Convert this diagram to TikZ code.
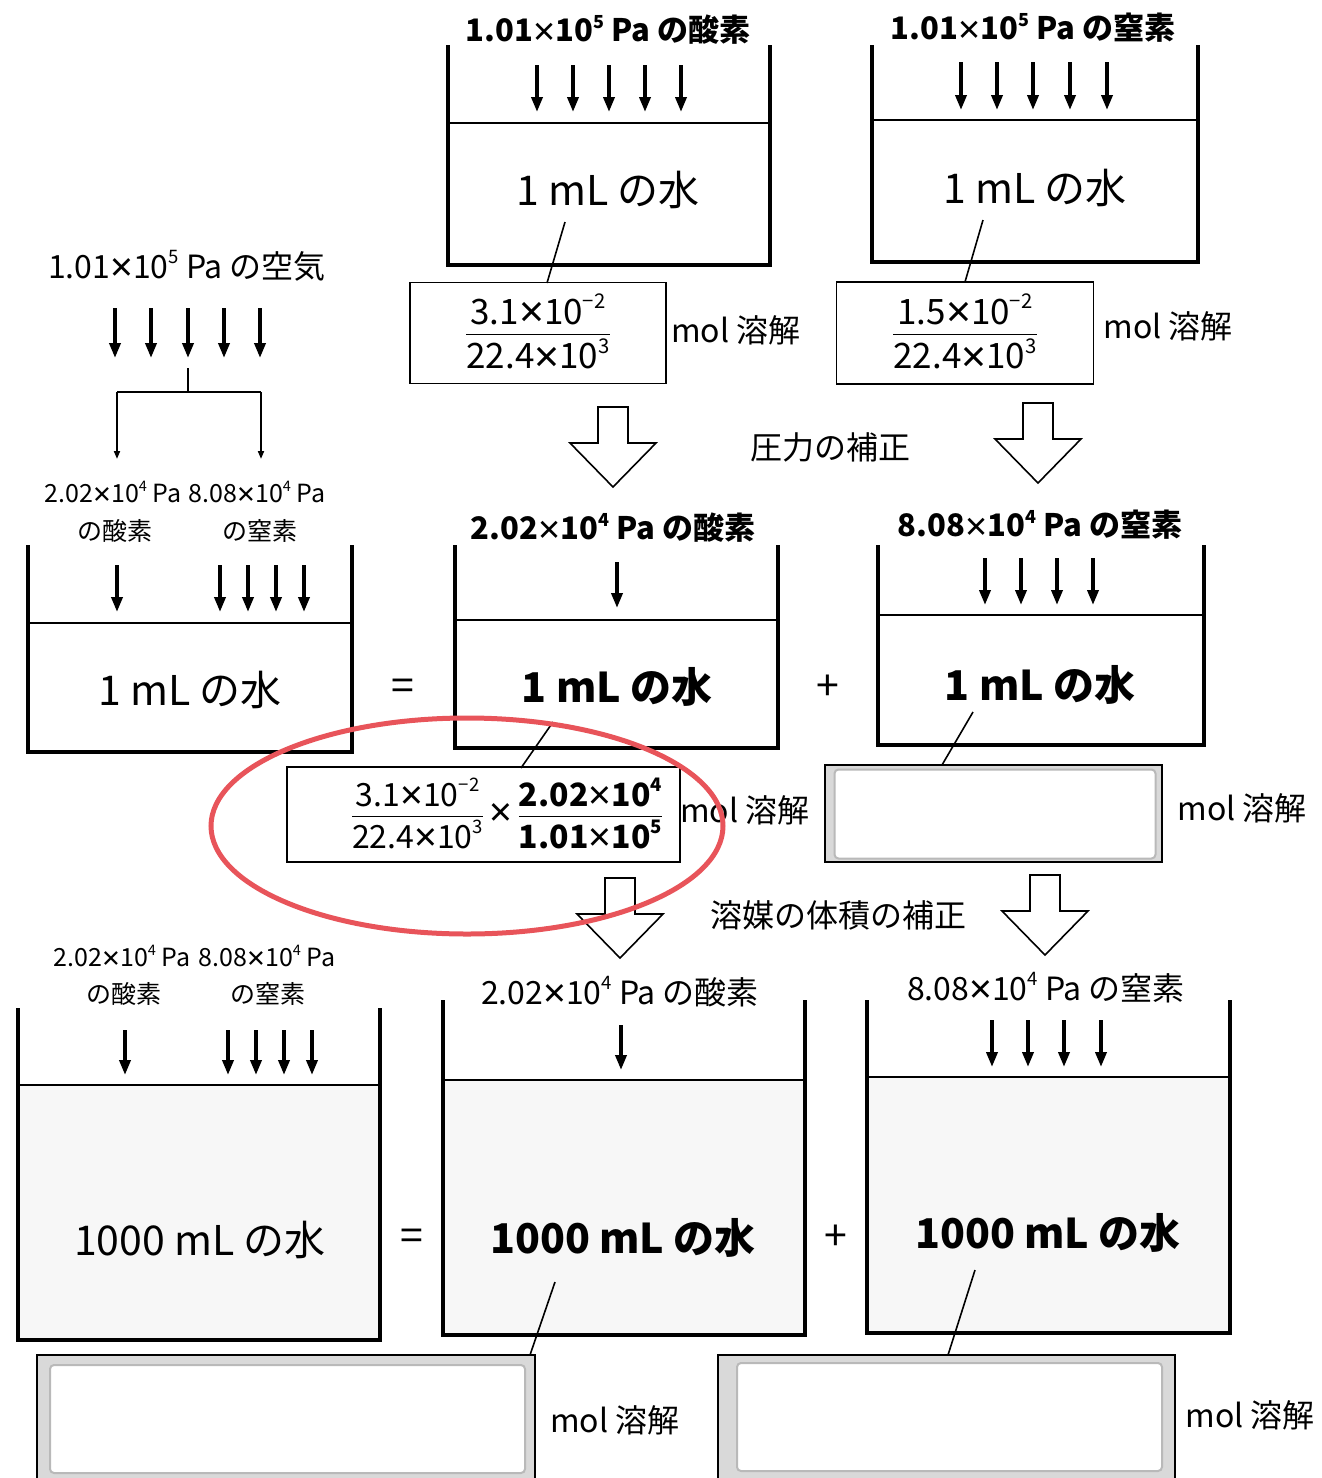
\documentclass[tikz,border=0pt]{standalone}
\usepackage{fontspec}
\usepackage{amsmath}
\setmainfont{Noto Sans CJK JP}
\newfontfamily\latn{Noto Sans}
\usetikzlibrary{arrows.meta}

\definecolor{kreis}{RGB}{232,84,90}
\newcommand{\mal}{\raisebox{-0.1em}{\scalebox{1.25}{\latn ×}}}
\newcommand{\hoch}[1]{\raisebox{0.45em}{\scalebox{0.58}{#1}}}
\newcommand{\zehn}[2]{#1\mal10\hoch{#2}}
\newcommand{\bruch}[2]{$\dfrac{\text{#1}}{\text{#2}}$}

\tikzset{
  wand/.style={line width=3.2pt},
  spiegel/.style={line width=2pt},
  druck/.style={line width=3.6pt,-{Triangle[length=15pt,width=11pt]}},
  zweig/.style={line width=1.8pt,-{Triangle[length=8pt,width=6pt]}},
  gross/.style={font=\fontsize{41}{45}\selectfont},
  grossfett/.style={font=\bfseries\fontsize{41}{45}\selectfont},
  mittel/.style={font=\fontsize{32}{36}\selectfont},
  mittelfett/.style={font=\bfseries\fontsize{31}{35}\selectfont},
  klein/.style={font=\fontsize{25}{28}\selectfont},
  bruchtext/.style={font=\fontsize{35}{39}\selectfont},
  feld/.style={draw,line width=1.6pt,inner sep=0pt},
  hohl/.style={draw,line width=1.6pt,fill=white},
  leer/.style={draw=gray!55,line width=2pt,fill=white,rounded corners=4pt}
}

\begin{document}
\begin{tikzpicture}[x=1pt,y=-1pt]
\useasboundingbox (0,0) rectangle (1322,1478);

% Wasser unten leicht grau
\foreach \xl/\xr/\yw/\yb in {18/380/1085/1340, 443/805/1080/1335, 867/1230/1077/1333}{
  \fill[gray!6] (\xl,\yw) rectangle (\xr,\yb);
}

% Gefaesse: links, rechts, oben, Wasserlinie, Boden
\foreach \xl/\xr/\yt/\yw/\yb in {448/770/45/123/265, 872/1198/45/120/262,
    28/352/545/623/752, 455/778/545/620/748, 878/1204/545/615/745,
    18/380/1008/1085/1340, 443/805/1000/1080/1335, 867/1230/1000/1077/1333}{
  \draw[wand] (\xl,\yt) -- (\xl,\yb) -- (\xr,\yb) -- (\xr,\yt);
  \draw[spiegel] (\xl,\yw) -- (\xr,\yw);
}

% Druckpfeile
\foreach \x in {537,573,609,645,681}{\draw[druck] (\x,65) -- (\x,112);}
\foreach \x in {961,997,1033,1070,1107}{\draw[druck] (\x,62) -- (\x,110);}
\foreach \x in {115,151,188,224,260}{\draw[druck] (\x,308) -- (\x,358);}
\foreach \x in {117,220,248,276,304}{\draw[druck] (\x,565) -- (\x,612);}
\draw[druck] (617,562) -- (617,608);
\foreach \x in {985,1021,1057,1093}{\draw[druck] (\x,558) -- (\x,605);}
\foreach \x in {125,228,256,284,312}{\draw[druck] (\x,1030) -- (\x,1075);}
\draw[druck] (621,1025) -- (621,1070);
\foreach \x in {992,1028,1064,1101}{\draw[druck] (\x,1020) -- (\x,1067);}

% Verzweigung Luft -> O2 / N2
\coordinate (ast) at (188,368);
\coordinate (astmitte) at (188,392);
\coordinate (astO) at (117,392);
\coordinate (astN) at (261,392);
\draw[line width=1.8pt] (ast) -- (astmitte);
\draw[line width=1.8pt] (astO) -- (astN);
\draw[zweig] (astO) -- ++(0,67);
\draw[zweig] (astN) -- ++(0,67);

% Hohlpfeile
\foreach \x/\y in {613/407, 1038/403, 620/878, 1045/875}{
  \draw[hohl] (\x-15,\y) -- (\x+15,\y) -- (\x+15,\y+36) -- (\x+43,\y+36)
    -- (\x,\y+80) -- (\x-43,\y+36) -- (\x-15,\y+36) -- cycle;
}

% obere Reihe
\node[mittelfett] (labO) at (608,30) {\zehn{1.01}{5} Pa の酸素};
\node[mittelfett] (labN) at (1033,28) {\zehn{1.01}{5} Pa の窒素};
\node[gross] (wasO) at (608,190) {1 mL の水};
\node[gross] (wasN) at (1035,188) {1 mL の水};
\node[feld,minimum width=256pt,minimum height=101pt,bruchtext] (boxO) at (538,333)
  {\bruch{\zehn{3.1}{−2}}{\zehn{22.4}{3}}};
\node[feld,minimum width=257pt,minimum height=102pt,bruchtext] (boxN) at (965,333)
  {\bruch{\zehn{1.5}{−2}}{\zehn{22.4}{3}}};
\node[mittel] (molO) at (736,330) {mol 溶解};
\node[mittel] (molN) at (1168,326) {mol 溶解};
\coordinate (sO1) at (565,222); \coordinate (sO2) at (547,283);
\coordinate (sN1) at (983,220); \coordinate (sN2) at (965,282);
\draw[line width=1.6pt] (sO1) -- (sO2);
\draw[line width=1.6pt] (sN1) -- (sN2);
\node[mittel] (druckkorr) at (830,447) {圧力の補正};

% Luft
\node[mittel] (luft) at (187,266) {\zehn{1.01}{5} Pa の空気};
\node[klein] (mlO1) at (113,493) {\zehn{2.02}{4} Pa};
\node[klein] (mlO2) at (115,531) {の酸素};
\node[klein] (mlN1) at (257,493) {\zehn{8.08}{4} Pa};
\node[klein] (mlN2) at (260,531) {の窒素};

% mittlere Reihe
\node[gross] (wasL) at (190,690) {1 mL の水};
\node[gross] (gl1) at (403,690) {=};
\node[mittelfett] (labO2) at (613,528) {\zehn{2.02}{4} Pa の酸素};
\node[grossfett] (wasO2) at (617,687) {1 mL の水};
\node[gross] (pl1) at (828,688) {+};
\node[mittelfett] (labN2) at (1040,525) {\zehn{8.08}{4} Pa の窒素};
\node[grossfett] (wasN2) at (1040,685) {1 mL の水};
\node[feld,minimum width=393pt,minimum height=95pt] (boxO2) at (483.5,814.5) {};
\node[font=\fontsize{32}{36}\selectfont] (termO2) at (507,815)
  {\bruch{\zehn{3.1}{−2}}{\zehn{22.4}{3}}\,\mal\,{\bfseries\bruch{\zehn{2.02}{4}}{\zehn{1.01}{5}}}};
\node[mittel] (molO2) at (745,810) {mol 溶解};
\draw[line width=1.2pt,fill=gray!30] (825,765) rectangle (1162,862);
\node[leer,minimum width=321pt,minimum height=89pt] (feldN2) at (995,814) {};
\node[mittel] (molN2) at (1242,808) {mol 溶解};
\coordinate (sO3) at (553,722); \coordinate (sO4) at (521,768);
\coordinate (sN3) at (973,712); \coordinate (sN4) at (942,765);
\draw[line width=1.6pt] (sO3) -- (sO4);
\draw[line width=1.6pt] (sN3) -- (sN4);
\node[mittel] (volkorr) at (838,915) {溶媒の体積の補正};

% untere Reihe
\node[klein] (ulO1) at (122,957) {\zehn{2.02}{4} Pa};
\node[klein] (ulO2) at (124,994) {の酸素};
\node[klein] (ulN1) at (267,957) {\zehn{8.08}{4} Pa};
\node[klein] (ulN2) at (268,994) {の窒素};
\node[gross] (wasL3) at (200,1240) {1000 mL の水};
\node[gross] (gl2) at (412,1240) {=};
\node[mittel] (labO3) at (620,992) {\zehn{2.02}{4} Pa の酸素};
\node[grossfett] (wasO3) at (623,1238) {1000 mL の水};
\node[gross] (pl2) at (836,1238) {+};
\node[mittel] (labN3) at (1046,988) {\zehn{8.08}{4} Pa の窒素};
\node[grossfett] (wasN3) at (1048,1233) {1000 mL の水};
\coordinate (sO5) at (555,1282); \coordinate (sO6) at (530,1355);
\coordinate (sN5) at (975,1270); \coordinate (sN6) at (948,1355);
\draw[line width=1.6pt] (sO5) -- (sO6);
\draw[line width=1.6pt] (sN5) -- (sN6);

% Antwortfelder unten
\draw[line width=1.2pt,fill=gray!30] (37,1355) rectangle (535,1495);
\node[leer,minimum width=475pt,minimum height=108pt] (feldO3) at (287.5,1419) {};
\node[mittel] (molO3) at (615,1420) {mol 溶解};
\draw[line width=1.2pt,fill=gray!30] (718,1355) rectangle (1175,1495);
\node[leer,minimum width=425pt,minimum height=108pt] (feldN3) at (949.5,1417) {};
\node[mittel] (molN3) at (1250,1415) {mol 溶解};

% roter Kreis
\draw[kreis,line width=5pt] (467,826) ellipse [x radius=256, y radius=108];

\end{tikzpicture}
\end{document}
